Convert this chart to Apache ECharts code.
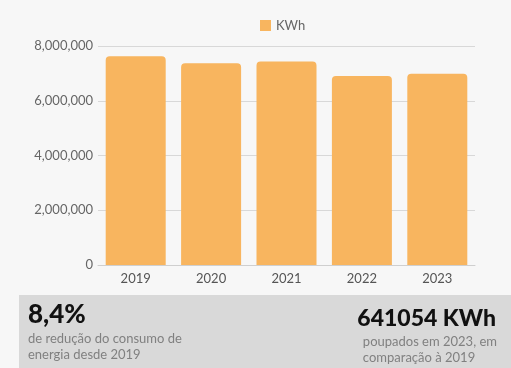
<!DOCTYPE html>
<html>
<head>
<meta charset="utf-8">
<script src="https://cdn.jsdelivr.net/npm/echarts@6/dist/echarts.min.js"></script>
<style>
  html, body { margin: 0; padding: 0; background: #f7f7f7; }
  #chart { width: 511px; height: 368px; }
</style>
</head>
<body>
<div id="chart"></div>
<script>
const years = ["2019", "2020", "2021", "2022", "2023"];
const consumo = [7630000, 7370000, 7430000, 6900000, 6989000];
const seriesName = "KWh";

const chart = echarts.init(document.getElementById("chart"));

chart.setOption({
  backgroundColor: "#f7f7f7",
  textStyle: { fontFamily: "Lato" },
  legend: {
    data: [seriesName],
    top: 14,
    left: 255,
    itemWidth: 11,
    itemHeight: 11,
    icon: "rect",
    textStyle: { color: "#666", fontSize: 13, fontFamily: "Lato" }
  },
  grid: { left: 98, right: 36, top: 46, bottom: 103 },
  xAxis: {
    type: "category",
    data: years,
    axisTick: { show: false },
    axisLine: { lineStyle: { color: "#cfcfcf" } },
    axisLabel: { color: "#555", fontSize: 13, margin: 7 }
  },
  yAxis: {
    type: "value",
    min: 0,
    max: 8000000,
    interval: 2000000,
    axisLabel: {
      color: "#666",
      fontSize: 13,
      margin: 5,
      formatter: v => v.toLocaleString("en-US")
    },
    splitLine: { lineStyle: { color: "#d8d8d8" } }
  },
  series: [{
    name: seriesName,
    type: "bar",
    data: consumo,
    barWidth: 60,
    itemStyle: { color: "#f8b55f", borderRadius: [4, 4, 0, 0] }
  }],
  graphic: [
    {
      type: "rect",
      shape: { x: 19, y: 295, width: 492, height: 73 },
      style: { fill: "#d9d9d9" }
    },
    {
      type: "text",
      left: 28, top: 302,
      style: { text: "8,4%", font: "900 26px Lato", fill: "#111" }
    },
    {
      type: "text",
      left: 28, top: 331,
      style: {
        text: "de redução do consumo de\nenergia desde 2019",
        font: "13px Lato", fill: "#808080", lineHeight: 16
      }
    },
    {
      type: "text",
      right: 15, top: 307,
      style: { text: "641054 KWh", font: "900 23px Lato", fill: "#111", align: "right" }
    },
    {
      type: "text",
      right: 14, top: 334,
      style: {
        text: "poupados em 2023, em\ncomparação à 2019",
        font: "13px Lato", fill: "#808080", lineHeight: 16, align: "right"
      }
    }
  ]
});
</script>
</body>
</html>
